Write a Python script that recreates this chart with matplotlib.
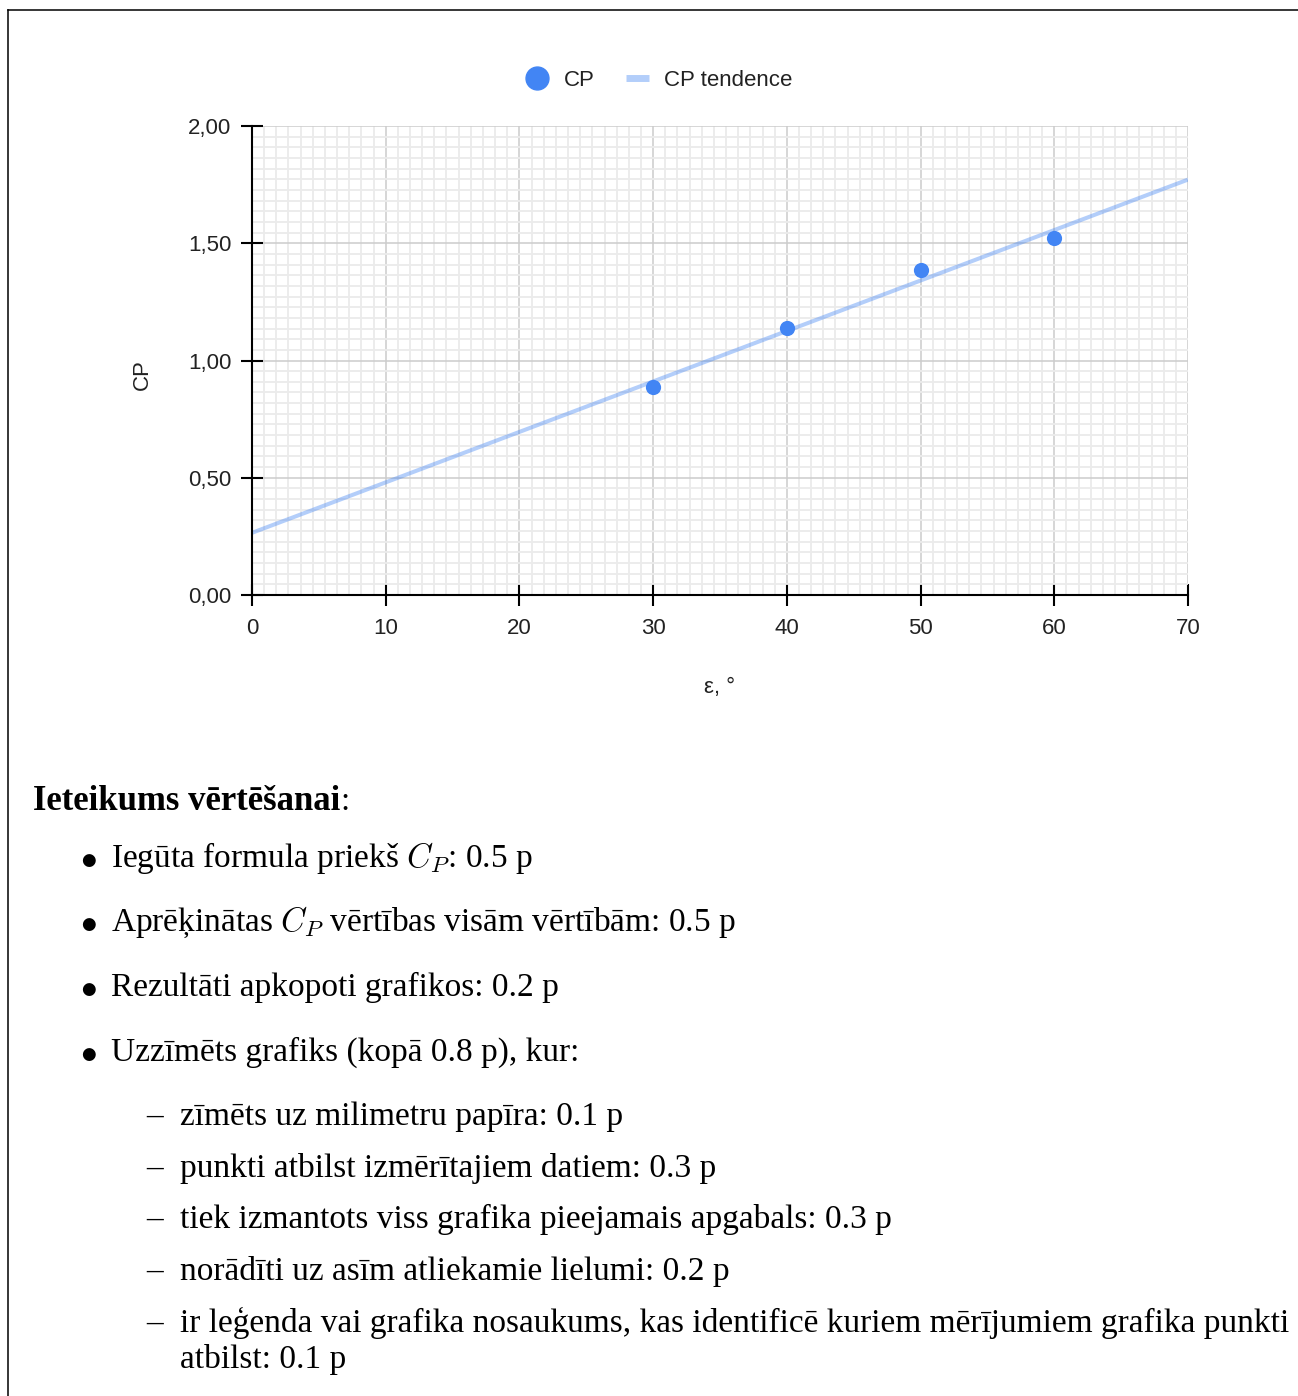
"""
CP atkarība no ε ar tendences līniju un vērtēšanas ieteikumiem.
"""

import numpy as np
import matplotlib.pyplot as plt
from matplotlib.lines import Line2D
from matplotlib.ticker import AutoMinorLocator, FuncFormatter

plt.rcParams['mathtext.fontset'] = 'cm'

# Dati
eps = [30, 40, 50, 60]
cp = [0.887, 1.139, 1.386, 1.522]
x_ticks = [0, 10, 20, 30, 40, 50, 60, 70]
y_ticks = [0.0, 0.5, 1.0, 1.5, 2.0]

heading = 'Ieteikums vērtēšanai'
bullets = [
    'Iegūta formula priekš $C_P$: 0.5 p',
    'Aprēķinātas $C_P$ vērtības visām vērtībām: 0.5 p',
    'Rezultāti apkopoti grafikos: 0.2 p',
    'Uzzīmēts grafiks (kopā 0.8 p), kur:',
]
sub_items = [
    'zīmēts uz milimetru papīra: 0.1 p',
    'punkti atbilst izmērītajiem datiem: 0.3 p',
    'tiek izmantots viss grafika pieejamais apgabals: 0.3 p',
    'norādīti uz asīm atliekamie lielumi: 0.2 p',
    'ir leģenda vai grafika nosaukums, kas identificē kuriem mērījumiem grafika punkti\natbilst: 0.1 p',
]

BLUE = '#4285F4'
W, H = 1298, 1396
SANS = 'Liberation Sans'
FS_SANS = 16

fig = plt.figure(figsize=(W / 100, H / 100), dpi=100)


def px(x, y):
    return x / W, 1 - y / H


# ============================================================
# Grafiks
# ============================================================
ax = fig.add_axes([252 / W, 1 - 595 / H, 936 / W, 469 / H])

ax.scatter(eps, cp, s=120, color=BLUE, zorder=5, label='CP', linewidths=0)

k, b = np.polyfit(eps, cp, 1)
xl = np.array([x_ticks[0], x_ticks[-1]])
ax.plot(xl, k * xl + b, color=BLUE, alpha=0.4, lw=2.9, zorder=4,
        label='CP tendence', solid_capstyle='butt')

ax.set_xlim(x_ticks[0], x_ticks[-1])
ax.set_ylim(y_ticks[0], y_ticks[-1])
ax.set_xticks(x_ticks)
ax.set_yticks(y_ticks)
ax.xaxis.set_minor_locator(AutoMinorLocator(11))
ax.yaxis.set_minor_locator(AutoMinorLocator(11))
ax.yaxis.set_major_formatter(FuncFormatter(lambda v, p: f'{v:.2f}'.replace('.', ',')))

ax.grid(which='major', color='#cccccc', lw=1.1, zorder=1)
ax.grid(which='minor', color='#ebebeb', lw=1.3, zorder=0)
ax.set_axisbelow(True)

for s in ['top', 'right']:
    ax.spines[s].set_visible(False)
for s in ['left', 'bottom']:
    ax.spines[s].set_linewidth(1.5)
    ax.spines[s].set_color('black')
    ax.spines[s].set_zorder(6)

ax.tick_params(which='major', direction='inout', length=15.8, width=1.5,
               labelsize=FS_SANS, labelcolor='#222222', color='black')
ax.tick_params(axis='x', pad=9)
ax.tick_params(axis='y', pad=7)
ax.tick_params(which='minor', length=0)
for lab in ax.get_xticklabels() + ax.get_yticklabels():
    lab.set_fontfamily(SANS)

ax.set_ylabel('CP', fontsize=FS_SANS, family=SANS, color='#222222')
ax.yaxis.set_label_coords(-0.106, 0.47)
ax.set_xlabel('ε, °', fontsize=FS_SANS, family=SANS, color='#222222')
ax.xaxis.set_label_coords(0.5, -0.175)

leg_handles = [
    Line2D([], [], marker='o', ls='none', color=BLUE, markersize=16.5),
    Line2D([], [], color=BLUE, alpha=0.4, lw=5, solid_capstyle='butt'),
]
fig.legend(leg_handles, ['CP', 'CP tendence'], ncol=2, frameon=False,
           loc='center', bbox_to_anchor=px(659, 80),
           prop={'family': SANS, 'size': FS_SANS},
           handlelength=1.05, handletextpad=0.68, columnspacing=1.4,
           labelcolor='#222222')

# ============================================================
# Rāmis
# ============================================================
fig.add_artist(Line2D([8 / W, 1], [1 - 10 / H, 1 - 10 / H], color='black', lw=1.1))
fig.add_artist(Line2D([8 / W, 8 / W], [0, 1 - 10 / H], color='black', lw=1.1))

# ============================================================
# Teksts
# ============================================================
SERIF = 'Liberation Serif'
FS = 24

renderer = fig.canvas.get_renderer()
h = fig.text(*px(33, 810), heading, family=SERIF, fontweight='bold', fontsize=25,
             va='baseline')
bb = h.get_window_extent(renderer)
fig.text(bb.x1 / W, 1 - 810 / H, ':', family=SERIF, fontsize=FS, va='baseline')

y_b = [867, 931, 996, 1061]
for yy, t in zip(y_b, bullets):
    fig.text(*px(80, yy), r'$\bullet$', fontsize=FS, va='baseline')
    fig.text(*px(111, yy), t, family=SERIF, fontsize=FS, va='baseline')

y_s = [1125, 1177, 1228, 1280, 1332]
for yy, t in zip(y_s, sub_items):
    fig.text(*px(146, yy), '–', family=SERIF, fontsize=FS, va='baseline')
    for i, line in enumerate(t.split('\n')):
        fig.text(*px(180, yy + 36 * i), line, family=SERIF, fontsize=FS,
                 va='baseline')

fig.savefig('out.png', dpi=100, facecolor='white')
